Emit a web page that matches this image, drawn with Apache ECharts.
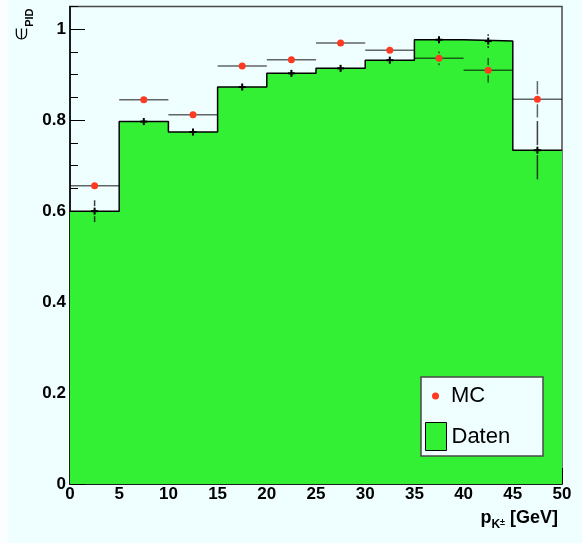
<!DOCTYPE html>
<html>
<head>
<meta charset="utf-8">
<script src="https://cdn.jsdelivr.net/npm/echarts@6/dist/echarts.min.js"></script>
<style>
html,body{margin:0;padding:0;background:#effefe;}
#chart{width:582px;height:543px;}
</style>
</head>
<body>
<div id="chart"></div>
<script>
// ---- data ----
const binEdges = [0, 5, 10, 15, 20, 25, 30, 35, 40, 45, 50];
const datenValues = [0.600, 0.797, 0.774, 0.873, 0.903, 0.914, 0.932, 0.977, 0.974, 0.734];
const datenErrors = [0.024, 0.005, 0.005, 0.005, 0.006, 0.005, 0.007, 0.008, 0.015, 0.064];
const mcValues = [0.656, 0.845, 0.812, 0.919, 0.933, 0.970, 0.954, 0.936, 0.910, 0.846];
const mcErrors = [0.004, 0.004, 0.004, 0.004, 0.004, 0.004, 0.005, 0.015, 0.027, 0.040];
const xTickLabels = ['0', '5', '10', '15', '20', '25', '30', '35', '40', '45', '50'];
const yTickLabels = ['0', '0.2', '0.4', '0.6', '0.8', '1'];

const GREEN = '#34f034';
const RED = '#ff3a22';
const FONT = 'Liberation Sans, Arial, Helvetica, sans-serif';

const centers = datenValues.map((v, i) => (binEdges[i] + binEdges[i + 1]) / 2);
const halfW = datenValues.map((v, i) => (binEdges[i + 1] - binEdges[i]) / 2);
const histData = binEdges.map((e, i) => [e, i < datenValues.length ? datenValues[i] : datenValues[datenValues.length - 1]]);
const datenPts = datenValues.map((v, i) => [centers[i], v, datenErrors[i]]);
const mcPts = mcValues.map((v, i) => [centers[i], v, mcErrors[i], halfW[i]]);

const chart = echarts.init(document.getElementById('chart'), null, {renderer: 'canvas'});

function vSegs(c, hi, lo, gap, stroke, w) {
  const out = [];
  if (c[1] - hi[1] > gap) out.push({type: 'line', shape: {x1: c[0], y1: hi[1], x2: c[0], y2: c[1] - gap}, style: {stroke: stroke, lineWidth: w}});
  if (lo[1] - c[1] > gap) out.push({type: 'line', shape: {x1: c[0], y1: c[1] + gap, x2: c[0], y2: lo[1]}, style: {stroke: stroke, lineWidth: w}});
  return out;
}

const option = {
  backgroundColor: '#effefe',
  animation: false,
  textStyle: {fontFamily: FONT},
  grid: {left: 70, right: 20, top: 6.5, bottom: 59, show: true, backgroundColor: '#effefe', borderColor: '#4a4a4a', borderWidth: 1.5},
  graphic: {elements: [
    {type: 'rect', left: 0, top: 0, shape: {x: 0, y: 0, width: 8, height: 543}, style: {fill: '#fbfefe'}, z: 0},
    {type: 'rect', shape: {x: 421, y: 377, width: 122, height: 79}, style: {fill: '#effefe', stroke: '#4a4a4a', lineWidth: 1.5}, z: 10}
  ]},
  legend: [
    {data: [{name: 'MC', icon: 'circle', itemStyle: {color: RED}}], left: 432, top: 385, itemWidth: 7, itemHeight: 7, padding: 0,
     selectedMode: false, z: 20, textStyle: {fontSize: 22, color: '#000', fontFamily: FONT, padding: [0, 0, 0, 7]}},
    {data: [{name: 'Daten', icon: 'rect', itemStyle: {color: GREEN, borderColor: '#000', borderWidth: 1}}], left: 425, top: 422, itemWidth: 21, itemHeight: 28, padding: 0,
     selectedMode: false, z: 20, textStyle: {fontSize: 22, color: '#000', fontFamily: FONT}}
  ],
  xAxis: {
    type: 'value', min: 0, max: 50, interval: 5,
    axisLine: {show: true, onZero: false, lineStyle: {color: '#000', width: 1.5}},
    axisTick: {show: true, inside: true, length: 16, lineStyle: {color: '#000', width: 1}},
    minorTick: {show: true, splitNumber: 5, length: 8, lineStyle: {color: '#000', width: 1}},
    splitLine: {show: false},
    axisLabel: {margin: 2, fontSize: 17, fontWeight: 'bold', color: '#000', fontFamily: FONT,
      formatter: (v) => { const i = xTickLabels.indexOf(String(v)); return i >= 0 ? xTickLabels[i] : ''; }},
    name: '{p|p}{k|K}{pm|±}{g| [GeV]}',
    nameLocation: 'end', nameGap: -4, nameMoveOverlap: false,
    nameTextStyle: {align: 'right', verticalAlign: 'top', padding: [24, 0, 0, 0],
      rich: {
        p: {fontSize: 18, fontWeight: 'bold', lineHeight: 20, verticalAlign: 'middle', fontFamily: FONT, color: '#000'},
        k: {fontSize: 12, fontWeight: 'bold', lineHeight: 12, verticalAlign: 'middle', padding: [14, 0, 0, 0], fontFamily: FONT, color: '#000'},
        pm: {fontSize: 9, fontWeight: 'bold', lineHeight: 9, verticalAlign: 'middle', padding: [10, 0, 0, 0], fontFamily: FONT, color: '#000'},
        g: {fontSize: 18, fontWeight: 'bold', lineHeight: 20, verticalAlign: 'middle', fontFamily: FONT, color: '#000'}
      }}
  },
  yAxis: [{
    type: 'value', min: 0, max: 1.05, interval: 0.2, position: 'left',
    axisLine: {show: true, onZero: false, lineStyle: {color: '#000', width: 1.5}},
    axisTick: {show: true, inside: true, length: 15, lineStyle: {color: '#000', width: 1}},
    splitLine: {show: false},
    axisLabel: {margin: 4, fontSize: 17, fontWeight: 'bold', color: '#000', fontFamily: FONT, showMaxLabel: false,
      formatter: (v) => { const s = String(Math.round(v * 100) / 100); return yTickLabels.indexOf(s) >= 0 ? s : ''; }},
    name: '{e|∈}{s|PID}',
    nameLocation: 'end', nameGap: 0, nameRotate: 90, nameMoveOverlap: false,
    nameTextStyle: {align: 'right', verticalAlign: 'bottom', padding: [0, 2, 39, 0],
      rich: {
        e: {fontSize: 16, lineHeight: 16, verticalAlign: 'middle', fontFamily: 'DejaVu Sans', color: '#000'},
        s: {fontSize: 11, fontWeight: 'bold', lineHeight: 12, verticalAlign: 'middle', padding: [14, 0, 0, 0], fontFamily: FONT, color: '#000'}
      }}
  }, {
    type: 'value', min: 0, max: 1.05, interval: 0.05, position: 'left', offset: 0,
    axisLine: {show: false},
    axisTick: {show: true, inside: true, length: 8, lineStyle: {color: '#000', width: 1}},
    axisLabel: {show: false},
    splitLine: {show: false}
  }],
  series: [
    {
      name: 'Daten', type: 'line', step: 'end', data: histData, symbol: 'none', z: 2,
      lineStyle: {color: '#000', width: 1.5},
      itemStyle: {color: GREEN},
      areaStyle: {color: GREEN, opacity: 1, origin: 'start'}
    },
    {
      name: 'MC', type: 'custom', z: 4, itemStyle: {color: RED},
      data: mcPts,
      renderItem: function (params, api) {
        const x = api.value(0), y = api.value(1), e = api.value(2), hw = api.value(3);
        const c = api.coord([x, y]);
        const l = api.coord([x - hw, y]);
        const r = api.coord([x + hw, y]);
        const hi = api.coord([x, y + e]);
        const lo = api.coord([x, y - e]);
        const stroke = 'rgba(0,0,0,0.6)';
        const ch = [
          {type: 'line', shape: {x1: l[0], y1: c[1], x2: r[0], y2: c[1]}, style: {stroke: stroke, lineWidth: 1.5}}
        ].concat(vSegs(c, hi, lo, 5, stroke, 1.5));
        ch.push({type: 'circle', shape: {cx: c[0], cy: c[1], r: 3.5}, style: {fill: RED}});
        return {type: 'group', children: ch};
      }
    },
    {
      name: 'Daten_pts', type: 'custom', z: 5, itemStyle: {color: '#000'},
      data: datenPts,
      renderItem: function (params, api) {
        const x = api.value(0), y = api.value(1), e = api.value(2);
        const c = api.coord([x, y]);
        const hi = api.coord([x, y + e]);
        const lo = api.coord([x, y - e]);
        const ch = vSegs(c, hi, lo, 5, 'rgba(0,0,0,0.75)', 1.5);
        ch.push({type: 'line', shape: {x1: c[0] - 3.5, y1: c[1], x2: c[0] + 3.5, y2: c[1]}, style: {stroke: '#000', lineWidth: 2}});
        ch.push({type: 'line', shape: {x1: c[0], y1: c[1] - 3.5, x2: c[0], y2: c[1] + 3.5}, style: {stroke: '#000', lineWidth: 2}});
        return {type: 'group', children: ch};
      }
    }
  ]
};
chart.setOption(option);
</script>
</body>
</html>
